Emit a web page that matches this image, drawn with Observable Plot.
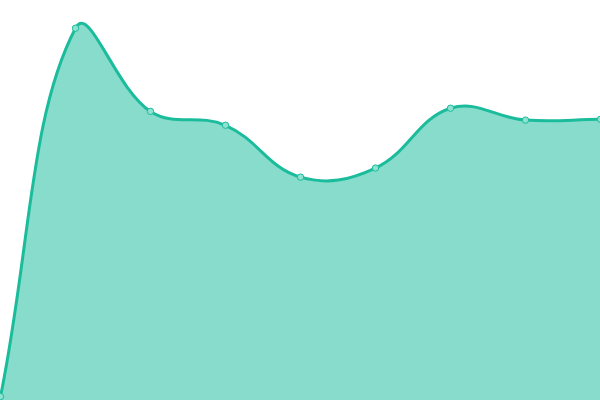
<!DOCTYPE html>
<html>
<head>
<meta charset="utf-8">
<script src="https://cdn.jsdelivr.net/npm/d3@7"></script>
<script src="https://cdn.jsdelivr.net/npm/@observablehq/plot@0.6"></script>
<style>
  html, body { margin: 0; padding: 0; background: #fff; }
  #chart svg { display: block; }
</style>
</head>
<body>
<div id="chart"></div>
<script>
const categories = [0, 1, 2, 3, 4, 5, 6, 7, 8];
const values = [0, 93, 72, 68.5, 55.4, 57.7, 72.8, 69.8, 70];
const yFloor = -1;

const data = categories.map((c, i) => ({ x: c, value: values[i] }));

// Tension-based spline (distance-weighted control points), tension 0.4
function SplineCurve(context, tension) {
  this._context = context;
  this._t = tension;
}
SplineCurve.prototype = {
  areaStart() { this._line = 0; },
  areaEnd() { this._line = NaN; },
  lineStart() { this._pts = []; },
  point(x, y) { this._pts.push([+x, +y]); },
  lineEnd() {
    const p = this._pts, n = p.length, c = this._context, t = this._t;
    if (n) {
      if (this._line) c.lineTo(p[0][0], p[0][1]); else c.moveTo(p[0][0], p[0][1]);
      if (n === 2) {
        c.lineTo(p[1][0], p[1][1]);
      } else if (n > 2) {
        const cpPrev = [], cpNext = [];
        for (let i = 0; i < n; i++) {
          const cur = p[i], prev = p[i - 1] || cur, next = p[i + 1] || cur;
          const d01 = Math.hypot(cur[0] - prev[0], cur[1] - prev[1]);
          const d12 = Math.hypot(next[0] - cur[0], next[1] - cur[1]);
          let s01 = d01 / (d01 + d12), s12 = d12 / (d01 + d12);
          if (!isFinite(s01)) s01 = 0;
          if (!isFinite(s12)) s12 = 0;
          const fa = t * s01, fb = t * s12;
          const vx = next[0] - prev[0], vy = next[1] - prev[1];
          cpPrev.push([cur[0] - fa * vx, cur[1] - fa * vy]);
          cpNext.push([cur[0] + fb * vx, cur[1] + fb * vy]);
        }
        for (let i = 0; i < n - 1; i++) {
          c.bezierCurveTo(cpNext[i][0], cpNext[i][1], cpPrev[i + 1][0], cpPrev[i + 1][1], p[i + 1][0], p[i + 1][1]);
        }
      }
    }
    if (this._line || (this._line !== 0 && n === 1)) c.closePath();
    this._line = 1 - this._line;
  }
};
const curve = (context) => new SplineCurve(context, 0.4);

const chart = Plot.plot({
  width: 600,
  height: 400,
  margin: 0,
  x: { domain: [0, 8], axis: null },
  y: { domain: [yFloor, 100], axis: null },
  marks: [
    Plot.areaY(data, { x: "x", y1: () => yFloor, y2: "value", fill: "#1abc9c", fillOpacity: 0.52, curve }),
    Plot.lineY(data, { x: "x", y: "value", stroke: "#1abc9c", strokeWidth: 3, curve }),
    Plot.dot(data, { x: "x", y: "value", r: 3.2, fill: "#8fe1d1", stroke: "#1abc9c", strokeWidth: 1 })
  ]
});
document.getElementById("chart").appendChild(chart);
</script>
</body>
</html>
